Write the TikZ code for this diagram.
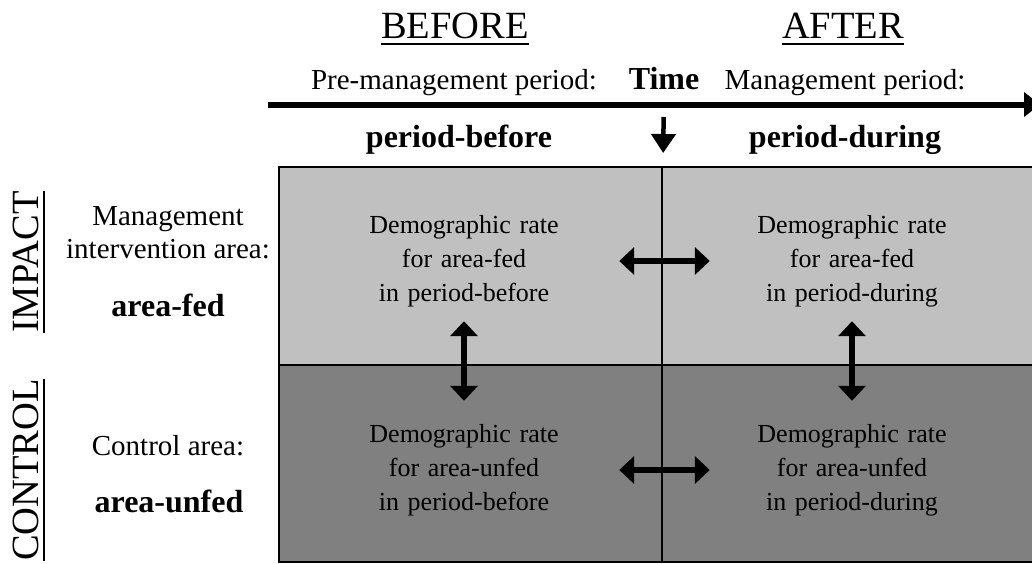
\documentclass[tikz,border=0pt]{standalone}
\usepackage{fontspec}
\setmainfont{Liberation Serif}
\usetikzlibrary{arrows.meta,positioning}
\definecolor{impactgray}{HTML}{C0C0C0}
\definecolor{controlgray}{HTML}{808080}

\begin{document}
\begin{tikzpicture}[x=1pt,y=-1pt,
  heading/.style={font=\fontsize{38.5}{42}\selectfont,inner sep=0pt,anchor=base},
  plaintext/.style={font=\fontsize{29}{33}\selectfont,inner sep=0pt,align=center},
  keyterm/.style={font=\fontsize{32}{36}\selectfont\bfseries,inner sep=0pt,anchor=base},
  celltext/.style={font=\fontsize{26}{34}\selectfont,align=center,
                   text width=220pt,minimum height=120pt,inner sep=0pt},
  uline/.style={line width=1.5pt},
  twoway/.style={line width=5.5pt,
                 {Triangle[width=27pt,length=15pt]}-{Triangle[width=27pt,length=15pt]}}]

  \useasboundingbox (0,0) rectangle (1032,563);

  % ---- BACI grid -----------------------------------------------
  \fill[impactgray]  (279,167) rectangle (1040,365);
  \fill[controlgray] (279,365) rectangle (1040,562);
  \draw[line width=2pt] (1040,167) -- (279,167) -- (279,562) -- (1040,562);
  \draw[line width=2.5pt] (279,365) -- (1040,365);
  \draw[line width=1.5pt] (662,167) -- (662,562);

  % ---- Column headings -----------------------------------------
  \node[heading] (before) at (455,38) {BEFORE};
  \draw[uline] ([yshift=-6pt]before.base west) -- ([yshift=-6pt]before.base east);
  \node[heading] (after) at (843,38) {AFTER};
  \draw[uline] ([yshift=-6pt]after.base west) -- ([yshift=-6pt]after.base east);

  \node[plaintext,anchor=base] (premgmt) at (454,89) {Pre-management period:};
  \node[keyterm] (time) at (664,89) {Time};
  \node[plaintext,anchor=base] (mgmt) at (845,89) {Management period:};

  % Time axis
  \coordinate (tstart) at (268,104.5);
  \coordinate (tend)   at (1040,104.5);
  \draw[line width=6pt,-{Triangle[width=24pt,length=16pt]}] (tstart) -- (tend);

  \node[keyterm] (pbefore) at (459,147) {period-before};
  \node[keyterm] (pduring) at (845,147) {period-during};

  % Start of management
  \coordinate (switch) at (663,167);
  \draw[line width=4.5pt,-{Triangle[width=24pt,length=19pt]},
        shorten <=28pt,shorten >=14pt] (time.base) -- (switch);

  % ---- Row headings --------------------------------------------
  \node[heading,rotate=90] (impact) at (38,262) {IMPACT};
  \draw[uline] ([xshift=6pt]impact.base west) -- ([xshift=6pt]impact.base east);
  \node[heading,rotate=90] (control) at (38,470) {CONTROL};
  \draw[uline] ([xshift=6pt]control.base west) -- ([xshift=6pt]control.base east);

  \node[plaintext,anchor=base] (mgmtarea) at (168,258) {Management\\intervention area:};
  \node[keyterm] (areafed) at (168,316) {area-fed};
  \node[plaintext,anchor=base] (ctrlarea) at (168,455) {Control area:};
  \node[keyterm] (areaunfed) at (169,512) {area-unfed};

  % ---- Cells ---------------------------------------------------
  \node[celltext] (fb) at (464,261) {Demographic rate\\for area-fed\\in period-before};
  \node[celltext] (fd) at (852,261) {Demographic rate\\for area-fed\\in period-during};
  \node[celltext] (ub) at (464,470) {Demographic rate\\for area-unfed\\in period-before};
  \node[celltext] (ud) at (852,470) {Demographic rate\\for area-unfed\\in period-during};

  % Comparisons
  \draw[twoway,shorten <=45pt,shorten >=32pt] (fb.east) -- (fd.west);
  \draw[twoway,shorten <=45pt,shorten >=32pt] (ub.east) -- (ud.west);
  \draw[twoway,shorten <=0pt,shorten >=9pt] (fb.south) -- (ub.north);
  \draw[twoway,shorten <=0pt,shorten >=9pt] (fd.south) -- (ud.north);

\end{tikzpicture}
\end{document}
